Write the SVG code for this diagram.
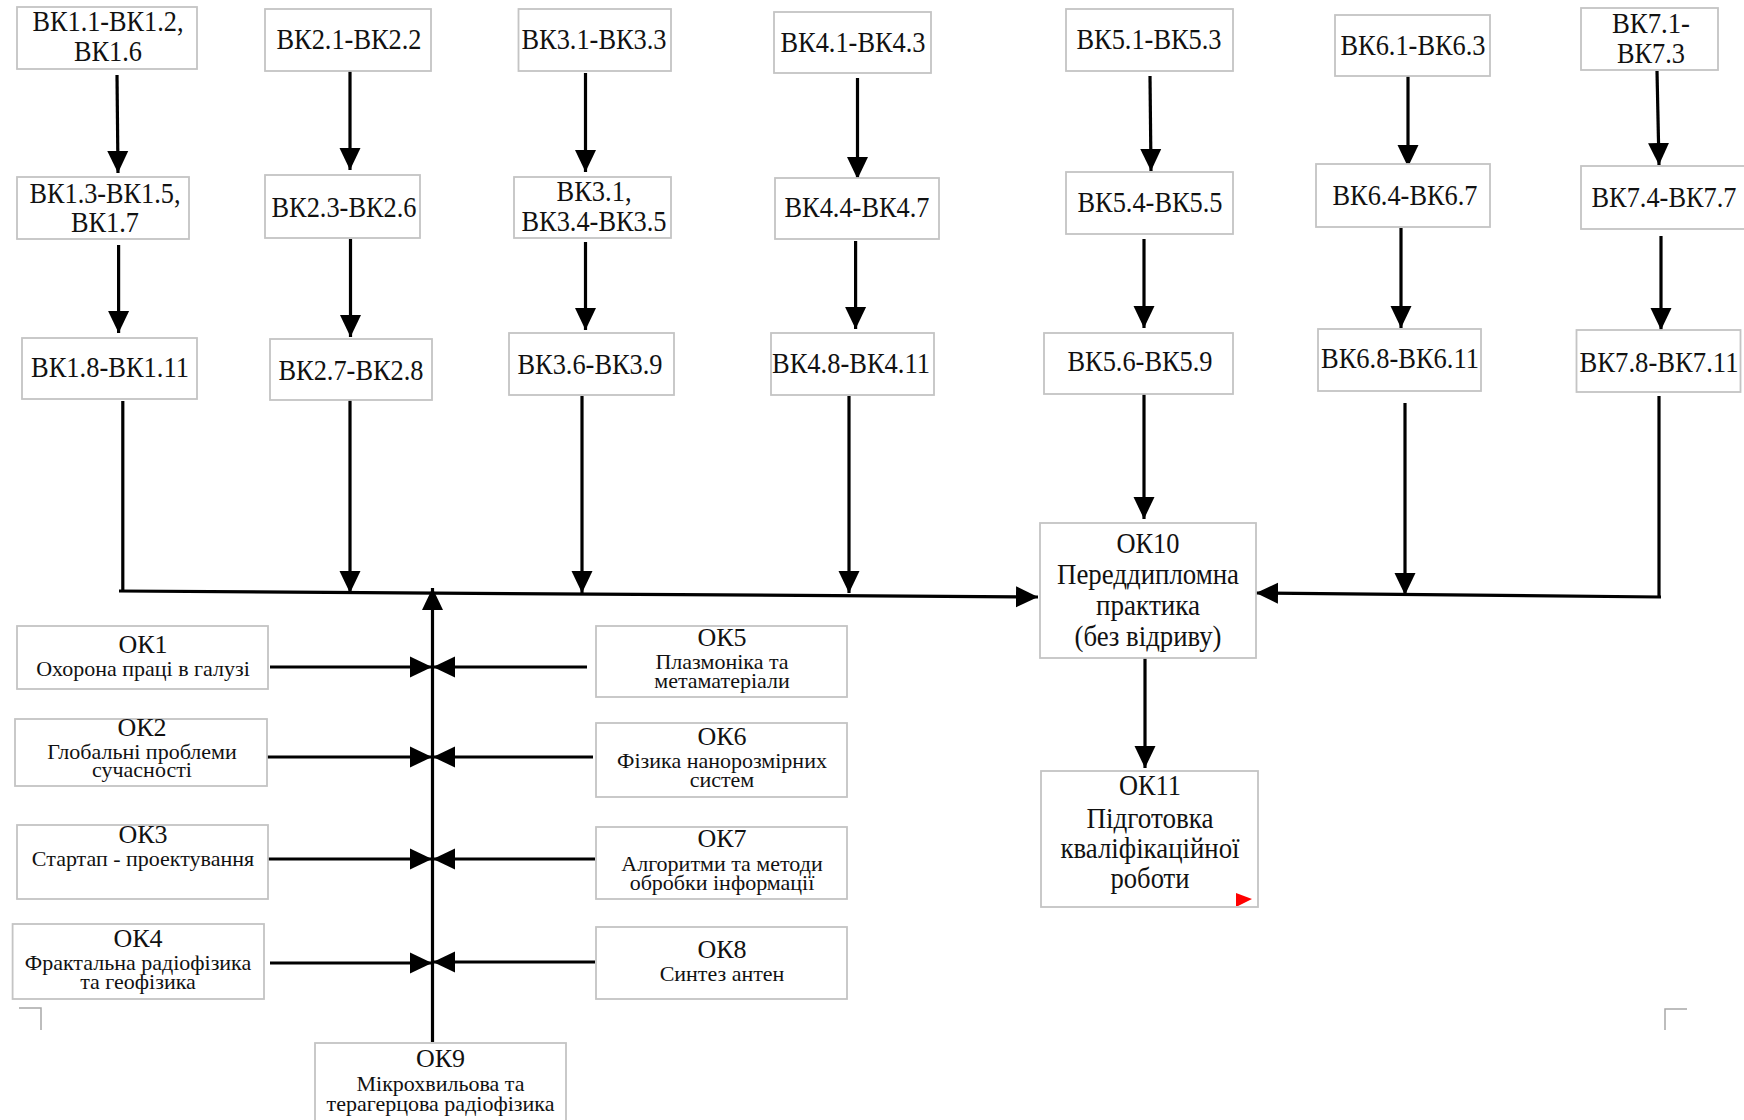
<svg xmlns="http://www.w3.org/2000/svg" width="1744" height="1120" viewBox="0 0 1744 1120">
<style>
  .box{fill:#fff;stroke:#c4c4c4;stroke-width:1.8}
  .bk{font-family:"Liberation Serif","Times New Roman",serif;font-size:29px;fill:#111;text-anchor:middle}
  .big{font-family:"Liberation Serif","Times New Roman",serif;font-size:30px;fill:#111;text-anchor:middle}
  .tt{font-family:"Liberation Serif","Times New Roman",serif;font-size:26px;fill:#111;text-anchor:middle}
  .st{font-family:"Liberation Serif","Times New Roman",serif;font-size:22px;fill:#111;text-anchor:middle}
  .ln{fill:none;stroke:#000;stroke-width:3.2}
  .ar{fill:none;stroke:#000;stroke-width:3.2;marker-end:url(#ah)}
  .mark{fill:none;stroke:#a8a8a8;stroke-width:1.5}
</style>
<defs>
  <marker id="ah" markerUnits="userSpaceOnUse" markerWidth="22" markerHeight="22" viewBox="0 0 22 22" refX="22" refY="11" orient="auto">
    <path d="M0,0.5 L22,11 L0,21.5 z" fill="#000"/>
  </marker>
</defs>
<rect width="1744" height="1120" fill="#fff"/>

<g id="connectors">
  <path class="ar" d="M117,75 L118,173"/>
  <path class="ar" d="M118.6,245 L118.6,333"/>
  <path class="ln" d="M122.8,401 L122.8,592"/>
  <path class="ar" d="M350,71 L350,170"/>
  <path class="ar" d="M350.5,239 L350.5,337"/>
  <path class="ar" d="M350,400 L350,593"/>
  <path class="ar" d="M585.5,73 L585.5,172"/>
  <path class="ar" d="M585.5,242 L585.5,330"/>
  <path class="ar" d="M582,396 L582,593"/>
  <path class="ar" d="M857.5,78 L857.5,179"/>
  <path class="ar" d="M855.6,241 L855.6,329"/>
  <path class="ar" d="M849,396 L849,593"/>
  <path class="ar" d="M1150,76 L1151,171"/>
  <path class="ar" d="M1144,239 L1144,328"/>
  <path class="ar" d="M1144,394 L1144,519"/>
  <path class="ar" d="M1408,68 L1408,167"/>
  <path class="ar" d="M1401,228 L1401,328"/>
  <path class="ar" d="M1405,403 L1405,595"/>
  <path class="ar" d="M1657,71 L1659,165"/>
  <path class="ar" d="M1661,236 L1661,330"/>
  <path class="ln" d="M1659,396 L1659,597"/>
  <path class="ar" d="M119,591 L1038,597"/>
  <path class="ar" d="M1661,597 L1256,593"/>
  <path class="ar" d="M432.5,1042 L432.5,588"/>
  <path class="ar" d="M1145,658 L1145,768"/>
  <path class="ar" d="M270,667 L432,667"/>
  <path class="ar" d="M587,667 L433,667"/>
  <path class="ar" d="M267,757 L432,757"/>
  <path class="ar" d="M593,757 L433,757"/>
  <path class="ar" d="M266,859 L432,859"/>
  <path class="ar" d="M595,859 L433,859"/>
  <path class="ar" d="M270,963 L432,963"/>
  <path class="ar" d="M595,962 L433,962"/>
</g>

<g id="bk1-1"><rect class="box" x="17" y="7" width="180" height="62"/>
  <text class="bk" x="108" y="31" textLength="151" lengthAdjust="spacingAndGlyphs">ВК1.1-ВК1.2,</text>
  <text class="bk" x="108" y="61" textLength="68" lengthAdjust="spacingAndGlyphs">ВК1.6</text></g>
<g id="bk2-1"><rect class="box" x="265" y="9" width="166" height="62"/>
  <text class="bk" x="349" y="49" textLength="145" lengthAdjust="spacingAndGlyphs">ВК2.1-ВК2.2</text></g>
<g id="bk3-1"><rect class="box" x="518.5" y="9" width="152.5" height="62"/>
  <text class="bk" x="594" y="49" textLength="145" lengthAdjust="spacingAndGlyphs">ВК3.1-ВК3.3</text></g>
<g id="bk4-1"><rect class="box" x="774" y="12" width="157" height="61"/>
  <text class="bk" x="853" y="52" textLength="145" lengthAdjust="spacingAndGlyphs">ВК4.1-ВК4.3</text></g>
<g id="bk5-1"><rect class="box" x="1066" y="9" width="167" height="62"/>
  <text class="bk" x="1149" y="49" textLength="145" lengthAdjust="spacingAndGlyphs">ВК5.1-ВК5.3</text></g>
<g id="bk6-1"><rect class="box" x="1335" y="15" width="155" height="61"/>
  <text class="bk" x="1413" y="55" textLength="145" lengthAdjust="spacingAndGlyphs">ВК6.1-ВК6.3</text></g>
<g id="bk7-1"><rect class="box" x="1581" y="8" width="137" height="62"/>
  <text class="bk" x="1651" y="33" textLength="78" lengthAdjust="spacingAndGlyphs">ВК7.1-</text>
  <text class="bk" x="1651" y="63" textLength="68" lengthAdjust="spacingAndGlyphs">ВК7.3</text></g>

<g id="bk1-2"><rect class="box" x="17" y="177" width="172" height="62"/>
  <text class="bk" x="105" y="203" textLength="151" lengthAdjust="spacingAndGlyphs">ВК1.3-ВК1.5,</text>
  <text class="bk" x="105" y="232" textLength="68" lengthAdjust="spacingAndGlyphs">ВК1.7</text></g>
<g id="bk2-2"><rect class="box" x="265" y="175" width="155" height="63"/>
  <text class="bk" x="344" y="217" textLength="145" lengthAdjust="spacingAndGlyphs">ВК2.3-ВК2.6</text></g>
<g id="bk3-2"><rect class="box" x="514" y="177" width="157" height="61"/>
  <text class="bk" x="594" y="201" textLength="75" lengthAdjust="spacingAndGlyphs">ВК3.1,</text>
  <text class="bk" x="594" y="231" textLength="145" lengthAdjust="spacingAndGlyphs">ВК3.4-ВК3.5</text></g>
<g id="bk4-2"><rect class="box" x="775" y="178" width="164" height="61"/>
  <text class="bk" x="857" y="217" textLength="145" lengthAdjust="spacingAndGlyphs">ВК4.4-ВК4.7</text></g>
<g id="bk5-2"><rect class="box" x="1066" y="172" width="167" height="62"/>
  <text class="bk" x="1150" y="212" textLength="145" lengthAdjust="spacingAndGlyphs">ВК5.4-ВК5.5</text></g>
<g id="bk6-2"><rect class="box" x="1316" y="164" width="174" height="63"/>
  <text class="bk" x="1405" y="205" textLength="145" lengthAdjust="spacingAndGlyphs">ВК6.4-ВК6.7</text></g>
<g id="bk7-2"><rect class="box" x="1581" y="166" width="166" height="63"/>
  <text class="bk" x="1664" y="207" textLength="145" lengthAdjust="spacingAndGlyphs">ВК7.4-ВК7.7</text></g>

<g id="bk1-3"><rect class="box" x="22" y="338" width="175" height="61"/>
  <text class="bk" x="110" y="377" textLength="158" lengthAdjust="spacingAndGlyphs">ВК1.8-ВК1.11</text></g>
<g id="bk2-3"><rect class="box" x="270" y="339" width="162" height="61"/>
  <text class="bk" x="351" y="380" textLength="145" lengthAdjust="spacingAndGlyphs">ВК2.7-ВК2.8</text></g>
<g id="bk3-3"><rect class="box" x="509" y="333" width="165" height="62"/>
  <text class="bk" x="590" y="374" textLength="145" lengthAdjust="spacingAndGlyphs">ВК3.6-ВК3.9</text></g>
<g id="bk4-3"><rect class="box" x="771" y="333" width="163" height="62"/>
  <text class="bk" x="851" y="373" textLength="158" lengthAdjust="spacingAndGlyphs">ВК4.8-ВК4.11</text></g>
<g id="bk5-3"><rect class="box" x="1044" y="333" width="189" height="61"/>
  <text class="bk" x="1140" y="371" textLength="145" lengthAdjust="spacingAndGlyphs">ВК5.6-ВК5.9</text></g>
<g id="bk6-3"><rect class="box" x="1318" y="329" width="163" height="62"/>
  <text class="bk" x="1400" y="368" textLength="158" lengthAdjust="spacingAndGlyphs">ВК6.8-ВК6.11</text></g>
<g id="bk7-3"><rect class="box" x="1576.5" y="330" width="164" height="62"/>
  <text class="bk" x="1659" y="372" textLength="159" lengthAdjust="spacingAndGlyphs">ВК7.8-ВК7.11</text></g>

<g id="ok10"><rect class="box" x="1040" y="523" width="216" height="135"/>
  <text class="big" x="1148" y="553" textLength="63" lengthAdjust="spacingAndGlyphs">ОК10</text>
  <text class="big" x="1148" y="584" textLength="182" lengthAdjust="spacingAndGlyphs">Переддипломна</text>
  <text class="big" x="1148" y="615" textLength="104" lengthAdjust="spacingAndGlyphs">практика</text>
  <text class="big" x="1148" y="646" textLength="147" lengthAdjust="spacingAndGlyphs">(без відриву)</text></g>
<g id="ok11"><rect class="box" x="1041" y="771" width="217" height="136"/>
  <text class="big" x="1150" y="795" textLength="62" lengthAdjust="spacingAndGlyphs">ОК11</text>
  <text class="big" x="1150" y="828" textLength="127" lengthAdjust="spacingAndGlyphs">Підготовка</text>
  <text class="big" x="1150" y="858" textLength="179" lengthAdjust="spacingAndGlyphs">кваліфікаційної</text>
  <text class="big" x="1150" y="888" textLength="79" lengthAdjust="spacingAndGlyphs">роботи</text>
  <polygon points="1236,893 1252,899 1238,906 1236,906" fill="#f00"/></g>

<g id="ok1"><rect class="box" x="17" y="626" width="251" height="63"/>
  <text class="tt" x="143" y="653">ОК1</text>
  <text class="st" x="143" y="676">Охорона праці в галузі</text></g>
<g id="ok2"><rect class="box" x="15" y="719" width="252" height="67"/>
  <text class="tt" x="142" y="736">ОК2</text>
  <text class="st" x="142" y="759">Глобальні проблеми</text>
  <text class="st" x="142" y="777">сучасності</text></g>
<g id="ok3"><rect class="box" x="17" y="825" width="251" height="74"/>
  <text class="tt" x="143" y="843">ОК3</text>
  <text class="st" x="143" y="866">Стартап - проектування</text></g>
<g id="ok4"><rect class="box" x="12.6" y="924" width="251.4" height="75"/>
  <text class="tt" x="138" y="947">ОК4</text>
  <text class="st" x="138" y="970">Фрактальна радіофізика</text>
  <text class="st" x="138" y="989">та геофізика</text></g>

<g id="ok5"><rect class="box" x="596" y="626" width="251" height="71"/>
  <text class="tt" x="722" y="646">ОК5</text>
  <text class="st" x="722" y="669">Плазмоніка та</text>
  <text class="st" x="722" y="688">метаматеріали</text></g>
<g id="ok6"><rect class="box" x="596" y="723" width="251" height="74"/>
  <text class="tt" x="722" y="745">ОК6</text>
  <text class="st" x="722" y="768">Фізика нанорозмірних</text>
  <text class="st" x="722" y="787">систем</text></g>
<g id="ok7"><rect class="box" x="596" y="827" width="251" height="72"/>
  <text class="tt" x="722" y="847">ОК7</text>
  <text class="st" x="722" y="871">Алгоритми та методи</text>
  <text class="st" x="722" y="890">обробки інформації</text></g>
<g id="ok8"><rect class="box" x="596" y="927" width="251" height="72"/>
  <text class="tt" x="722" y="958">ОК8</text>
  <text class="st" x="722" y="981">Синтез антен</text></g>

<g id="ok9"><rect class="box" x="315" y="1043" width="251" height="82"/>
  <text class="tt" x="440.5" y="1067">ОК9</text>
  <text class="st" x="440.5" y="1091">Мікрохвильова та</text>
  <text class="st" x="440.5" y="1111">терагерцова радіофізика</text></g>

<path class="mark" d="M19,1008 L41,1008 L41,1030"/>
<path class="mark" d="M1687,1009 L1665,1009 L1665,1030"/>
</svg>
